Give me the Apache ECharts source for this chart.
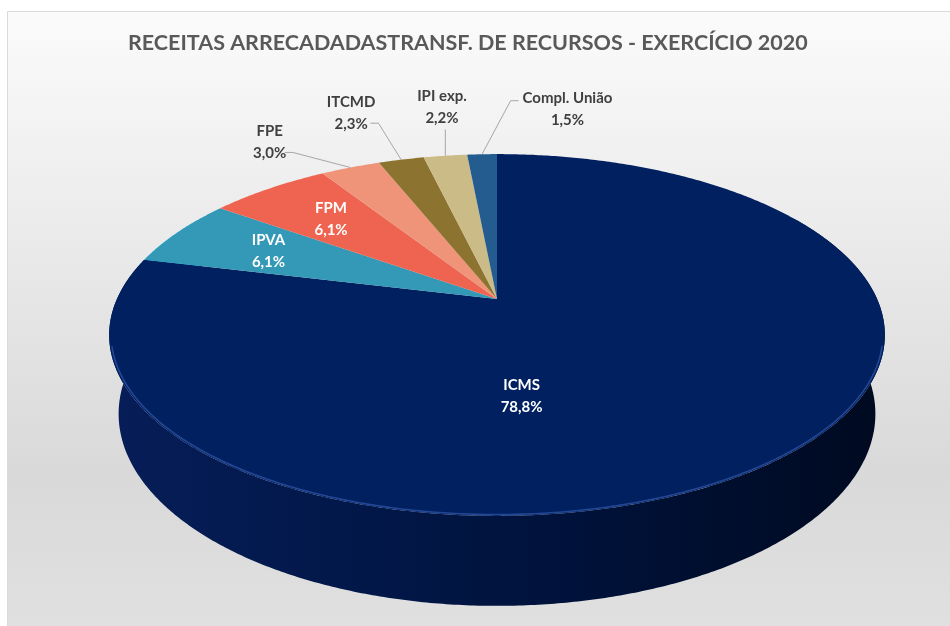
<!DOCTYPE html>
<html>
<head>
<meta charset="utf-8">
<script src="https://cdn.jsdelivr.net/npm/echarts@6/dist/echarts.min.js"></script>
<style>
  html, body { margin: 0; padding: 0; background: #fff; }
  #myChart { width: 950px; height: 626px; }
</style>
</head>
<body>
<div id="myChart"></div>
<script>
// dados do gráfico (%)
var categories = ['ICMS', 'IPVA', 'FPM', 'FPE', 'ITCMD', 'IPI exp.', 'Compl. União'];
var shares = [78.8, 6.1, 6.1, 3.0, 2.3, 2.2, 1.5];
var chartTitle = 'RECEITAS ARRECADADASTRANSF. DE RECURSOS - EXERCÍCIO 2020';

// estilo
var colors = ['#002060', '#3399b6', '#ef6450', '#f09479', '#8c7430', '#cbbb86', '#245c90'];
var insideLabel = [true, true, true, false, false, false, false];
var labelFont = 'bold 15px Lato';
// ajustes de posição dos rótulos (px), como o Excel os deixou
var labelNudge = {
  'ICMS': [-160, -10],
  'FPE': [-45, 7],
  'ITCMD': [-27, -13],
  'IPI exp.': [9, -14],
  'Compl. União': [89, -11]
};

// "câmera" da pizza 3D
var cx = 497, cy = 299, f = 1699, d = 4.47, h = 0.235;
var alpha = 27.2 * Math.PI / 180;
var sa = Math.sin(alpha), ca = Math.cos(alpha);

function proj(deg, r, Y) {
  var t = deg * Math.PI / 180;
  var X = r * Math.sin(t), Z = -r * Math.cos(t);
  var depth = d - Y * sa - Z * ca;
  return [cx + f * X / depth, cy - f * (Y * ca - Z * sa) / depth];
}
function arc(a0, a1, r, Y) {
  var pts = [], n = Math.max(2, Math.ceil(Math.abs(a1 - a0) / 0.5));
  for (var k = 0; k <= n; k++) pts.push(proj(a0 + (a1 - a0) * k / n, r, Y));
  return pts;
}

var total = shares.reduce(function (a, b) { return a + b; }, 0);
function angles(i) {
  var before = 0;
  for (var k = 0; k < i; k++) before += shares[k];
  return [before / total * 360, (before + shares[i]) / total * 360];
}
function fmt(v) { return v.toFixed(1).replace('.', ',') + '%'; }

var measureCtx = document.createElement('canvas').getContext('2d');
measureCtx.font = labelFont;

function renderWall(params, api) {
  var i = params.dataIndex;
  var a = angles(i);
  var a0 = Math.max(a[0], 60), a1 = Math.min(a[1], 300);
  if (a1 <= a0) return { type: 'group', children: [] };
  var pts = arc(a0, a1, 1, 0).concat(arc(a1, a0, 1, -h));
  var fill = i === 0
    ? new echarts.graphic.LinearGradient(110, 0, 885, 0, [
        { offset: 0, color: '#061d58' },
        { offset: 0.3, color: '#02184a' },
        { offset: 0.6, color: '#00123a' },
        { offset: 1, color: '#000a20' }
      ], true)
    : echarts.color.lift(colors[i], -0.4);
  return { type: 'polygon', shape: { points: pts }, style: { fill: fill } };
}

function renderTop(params, api) {
  var i = params.dataIndex;
  var a = angles(i);
  var children = [];
  var pts = [proj(0, 0, 0)].concat(arc(a[0], a[1], 1, 0));
  children.push({ type: 'polygon', shape: { points: pts }, style: { fill: colors[i] } });
  if (i === 0) {
    // brilho na borda da face superior
    children.push({
      type: 'polyline', shape: { points: arc(105, 255, 0.995, 0) },
      style: { stroke: 'rgba(70,110,200,0.5)', lineWidth: 1.6, fill: null }
    });
  }
  var mid = (a[0] + a[1]) / 2;
  var name = categories[i];
  var nudge = labelNudge[name] || [0, 0];
  var text = name + '\n' + fmt(api.value(1));
  var lp;
  if (insideLabel[i]) {
    lp = proj(mid, 0.7, 0);
    lp = [lp[0] + nudge[0], lp[1] + nudge[1]];
    children.push({
      type: 'text', x: lp[0], y: lp[1],
      style: { text: text, fill: '#ffffff', font: labelFont, align: 'center', verticalAlign: 'middle', lineHeight: 22 }
    });
  } else {
    lp = proj(mid, 1.3, 0);
    lp = [lp[0] + nudge[0], lp[1] + nudge[1]];
    var rim = proj(mid, 1, 0);
    var hw = Math.max(measureCtx.measureText(name).width, measureCtx.measureText(fmt(api.value(1))).width) / 2;
    var line;
    if (Math.abs(rim[0] - lp[0]) < hw) {
      line = [[rim[0], lp[1] + 22], rim];
    } else if (rim[0] > lp[0]) {
      line = [[lp[0] + hw * 0.55 + 6, lp[1] + 10], [lp[0] + hw * 0.55 + 14, lp[1] + 10], rim];
    } else {
      line = [[lp[0] - hw - 4, lp[1] - 8], [lp[0] - hw - 12, lp[1] - 8], rim];
    }
    children.push({
      type: 'polyline', shape: { points: line },
      style: { stroke: '#a6a6a6', lineWidth: 1, fill: null }
    });
    children.push({
      type: 'text', x: lp[0], y: lp[1],
      style: { text: text, fill: '#404040', font: labelFont, align: 'center', verticalAlign: 'middle', lineHeight: 22 }
    });
  }
  return { type: 'group', children: children };
}

var myChart = echarts.init(document.getElementById('myChart'));
var seriesData = shares.map(function (v, i) { return [i, v]; });
myChart.setOption({
  animation: false,
  title: {
    text: chartTitle,
    left: 123,
    top: 27,
    textStyle: { fontFamily: 'Lato', fontWeight: 'bold', fontSize: 21.5, color: '#595959' }
  },
  graphic: [{
    type: 'rect', z: -10, silent: true,
    shape: { x: 7.5, y: 11.5, width: 1000, height: 700 },
    style: {
      fill: new echarts.graphic.LinearGradient(0, 11, 0, 626, [
        { offset: 0, color: '#fbfbfb' },
        { offset: 0.75, color: '#d9d9d9' },
        { offset: 1, color: '#e0e0e0' }
      ], true),
      stroke: '#d9d9d9', lineWidth: 1
    }
  }],
  series: [
    { type: 'custom', name: 'parede', coordinateSystem: 'none', z: 2, renderItem: renderWall, data: seriesData, silent: true },
    { type: 'custom', name: 'topo', coordinateSystem: 'none', z: 3, renderItem: renderTop, data: seriesData }
  ]
});
</script>
</body>
</html>
